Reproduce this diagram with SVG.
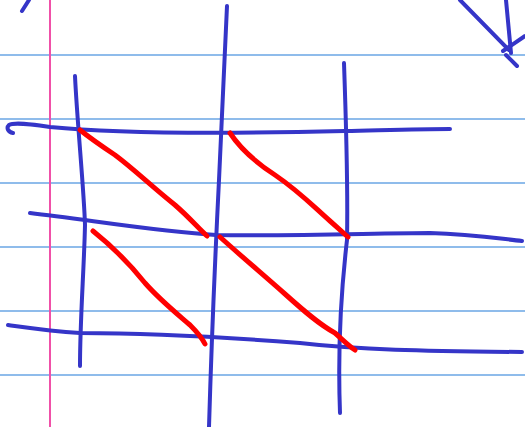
<svg xmlns="http://www.w3.org/2000/svg" width="525" height="427" viewBox="0 0 525 427">
<style>
.rule{stroke:#6aa6e4;stroke-width:1.3;fill:none}
.margin{stroke:#f050a8;stroke-width:2;fill:none}
.b{stroke:#3535c8;stroke-width:4;fill:none;stroke-linecap:round;stroke-linejoin:round}
.r{stroke:#ff0000;stroke-width:5;fill:none;stroke-linecap:round;stroke-linejoin:round}
</style>
<rect width="525" height="427" fill="#ffffff"/>
<g id="paper">
<line class="rule" x1="0" y1="55" x2="525" y2="55"/>
<line class="rule" x1="0" y1="119" x2="525" y2="119"/>
<line class="rule" x1="0" y1="183" x2="525" y2="183"/>
<line class="rule" x1="0" y1="247" x2="525" y2="247"/>
<line class="rule" x1="0" y1="311" x2="525" y2="311"/>
<line class="rule" x1="0" y1="375" x2="525" y2="375"/>
<line class="margin" x1="50" y1="0" x2="50" y2="427"/>
</g>
<g id="blue-strokes">
<path class="b" d="M22,11 L29,0"/>
<path class="b" d="M75,76 C77,120 84,190 85,225 C84,270 80,320 80,366"/>
<path class="b" d="M227,6 C224,60 222,120 219,180 C214,280 211,360 209,427"/>
<path class="b" d="M344,63 C346,120 348,190 347,240 C340,300 338,360 340,413"/>
<path class="b" d="M13,133 C8,132 6,128 9,125 C14,122 30,124 50,127 C120,134 220,134 345,131 C390,130 420,129 450,129"/>
<path class="b" d="M30,213 C90,220 160,232 216,235 C300,236 380,233 430,233 C470,234 495,238 522,241"/>
<path class="b" d="M8,325 C30,328 50,331 80,333 C150,333 210,336 300,343 C360,350 420,351 522,352"/>
<path class="b" d="M460,0 L509,50"/>
<path class="b" d="M506,0 L511,53"/>
<path class="b" d="M503,51 L525,36"/>
<path class="b" d="M506,55 L517,66"/>
</g>
<g id="red-strokes">
<path class="r" d="M80,130 C90,138 100,145 115,155 C135,170 150,185 175,205 C190,218 198,228 207,236"/>
<path class="r" d="M230,133 C240,148 255,162 275,175 C300,192 315,208 330,221 L348,237"/>
<path class="r" d="M93,231 C108,243 125,258 145,283 C160,300 175,312 190,325 C198,333 202,338 205,344"/>
<path class="r" d="M220,237 C240,255 260,272 285,294 C305,312 320,325 335,333 C343,340 349,346 355,350"/>
</g>
</svg>
